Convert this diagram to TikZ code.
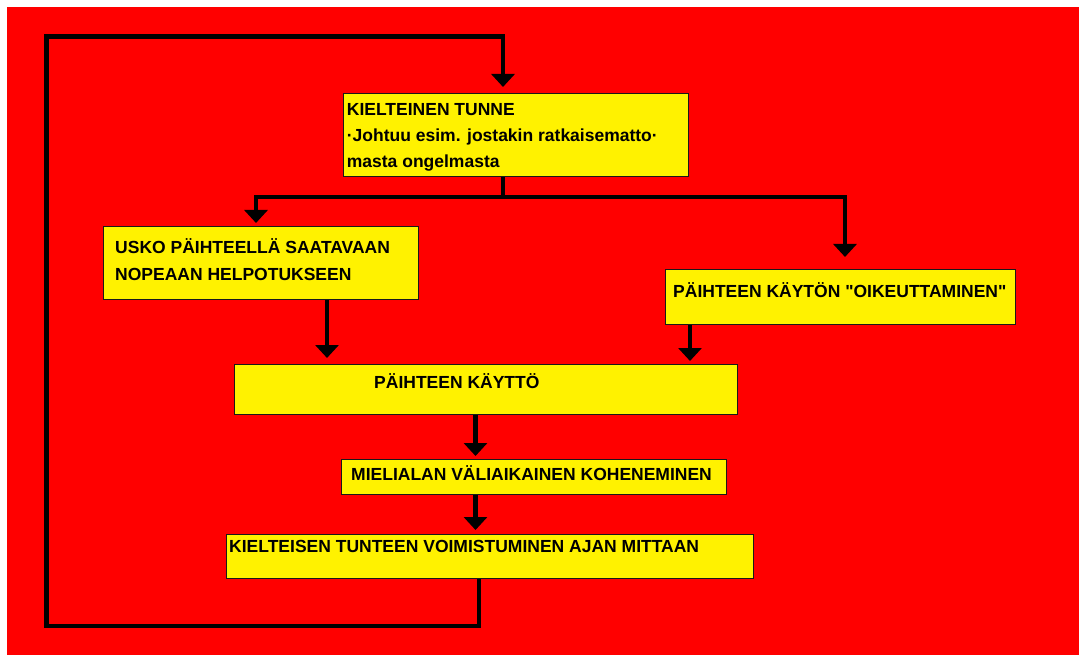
\documentclass[tikz,border=0pt]{standalone}
\usepackage{fontspec}
\setmainfont{Liberation Sans}[Ligatures=TeXOff]
\usetikzlibrary{arrows.meta}
\begin{document}
\begin{tikzpicture}[x=1pt,y=-1pt,
  box/.style={draw=black!90, line width=1.3pt, fill=yellow, anchor=north west, inner sep=0pt},
  lbl/.style={anchor=base west, inner sep=0pt, font=\bfseries\fontsize{17.5}{26}\selectfont, text=black},
  conn/.style={line width=4.5pt, draw=black},
  arr/.style={conn, -{Triangle[width=23pt,length=13pt]}}]
\path[use as bounding box] (0,0) rectangle (1079,655);
\fill[red] (7,7) rectangle (1079,655);

% boxes
\node[box, minimum width=345pt, minimum height=83pt] (b1) at (343,93) {};
\node[box, minimum width=315pt, minimum height=73pt] (b2) at (103,226) {};
\node[box, minimum width=350pt, minimum height=55pt] (b3) at (665,269) {};
\node[box, minimum width=503pt, minimum height=50pt] (b4) at (234,364) {};
\node[box, minimum width=385pt, minimum height=35pt] (b5) at (341,459) {};
\node[box, minimum width=527pt, minimum height=44pt] (b6) at (226,534) {};

% columns and junctions
\coordinate (xa) at (503,0);
\coordinate (xb) at (256,0);
\coordinate (xc) at (845,0);
\coordinate (xd) at (327,0);
\coordinate (xe) at (690,0);
\coordinate (xf) at (475.5,0);
\coordinate (xg) at (479,0);
\coordinate (j1) at (503,197);
\coordinate (lb) at (46.5,626);
\coordinate (lt) at (46.5,36.7);

% connectors
\draw[conn] (b1.south -| xa) -- (j1);
\draw[arr, shorten >=3pt] (j1) -| (b2.north -| xb);
\draw[arr, shorten >=12pt] (j1) -| (b3.north -| xc);
\draw[arr, shorten >=6pt] (b2.south -| xd) -- (b4.north -| xd);
\draw[arr, shorten >=3pt] (b3.south -| xe) -- (b4.north -| xe);
\draw[arr, shorten >=3pt] (b4.south -| xf) -- (b5.north -| xf);
\draw[arr, shorten >=4pt] (b5.south -| xf) -- (b6.north -| xf);
\draw[arr, shorten >=6pt] (b6.south -| xg) |- (lb) -- (lt) -| (b1.north -| xa);

% texts
\node[lbl] (t1a) at (346.7,115.3) {KIELTEINEN TUNNE};
\node[lbl] (t1b) at (346.7,141.3) {·Johtuu esim. jostakin ratkaisematto·};
\node[lbl] (t1c) at (346.7,167.3) {masta ongelmasta};
\node[lbl] (t2a) at (115,254) {USKO PÄIHTEELLÄ SAATAVAAN};
\node[lbl] (t2b) at (115,280) {NOPEAAN HELPOTUKSEEN};
\node[lbl] (t3) at (673,297.7) {PÄIHTEEN KÄYTÖN "OIKEUTTAMINEN"};
\node[lbl] (t4) at (374,388) {PÄIHTEEN KÄYTTÖ};
\node[lbl] (t5) at (351,480) {MIELIALAN VÄLIAIKAINEN KOHENEMINEN};
\node[lbl] (t6) at (229,552) {KIELTEISEN TUNTEEN VOIMISTUMINEN AJAN MITTAAN};
\end{tikzpicture}
\end{document}
